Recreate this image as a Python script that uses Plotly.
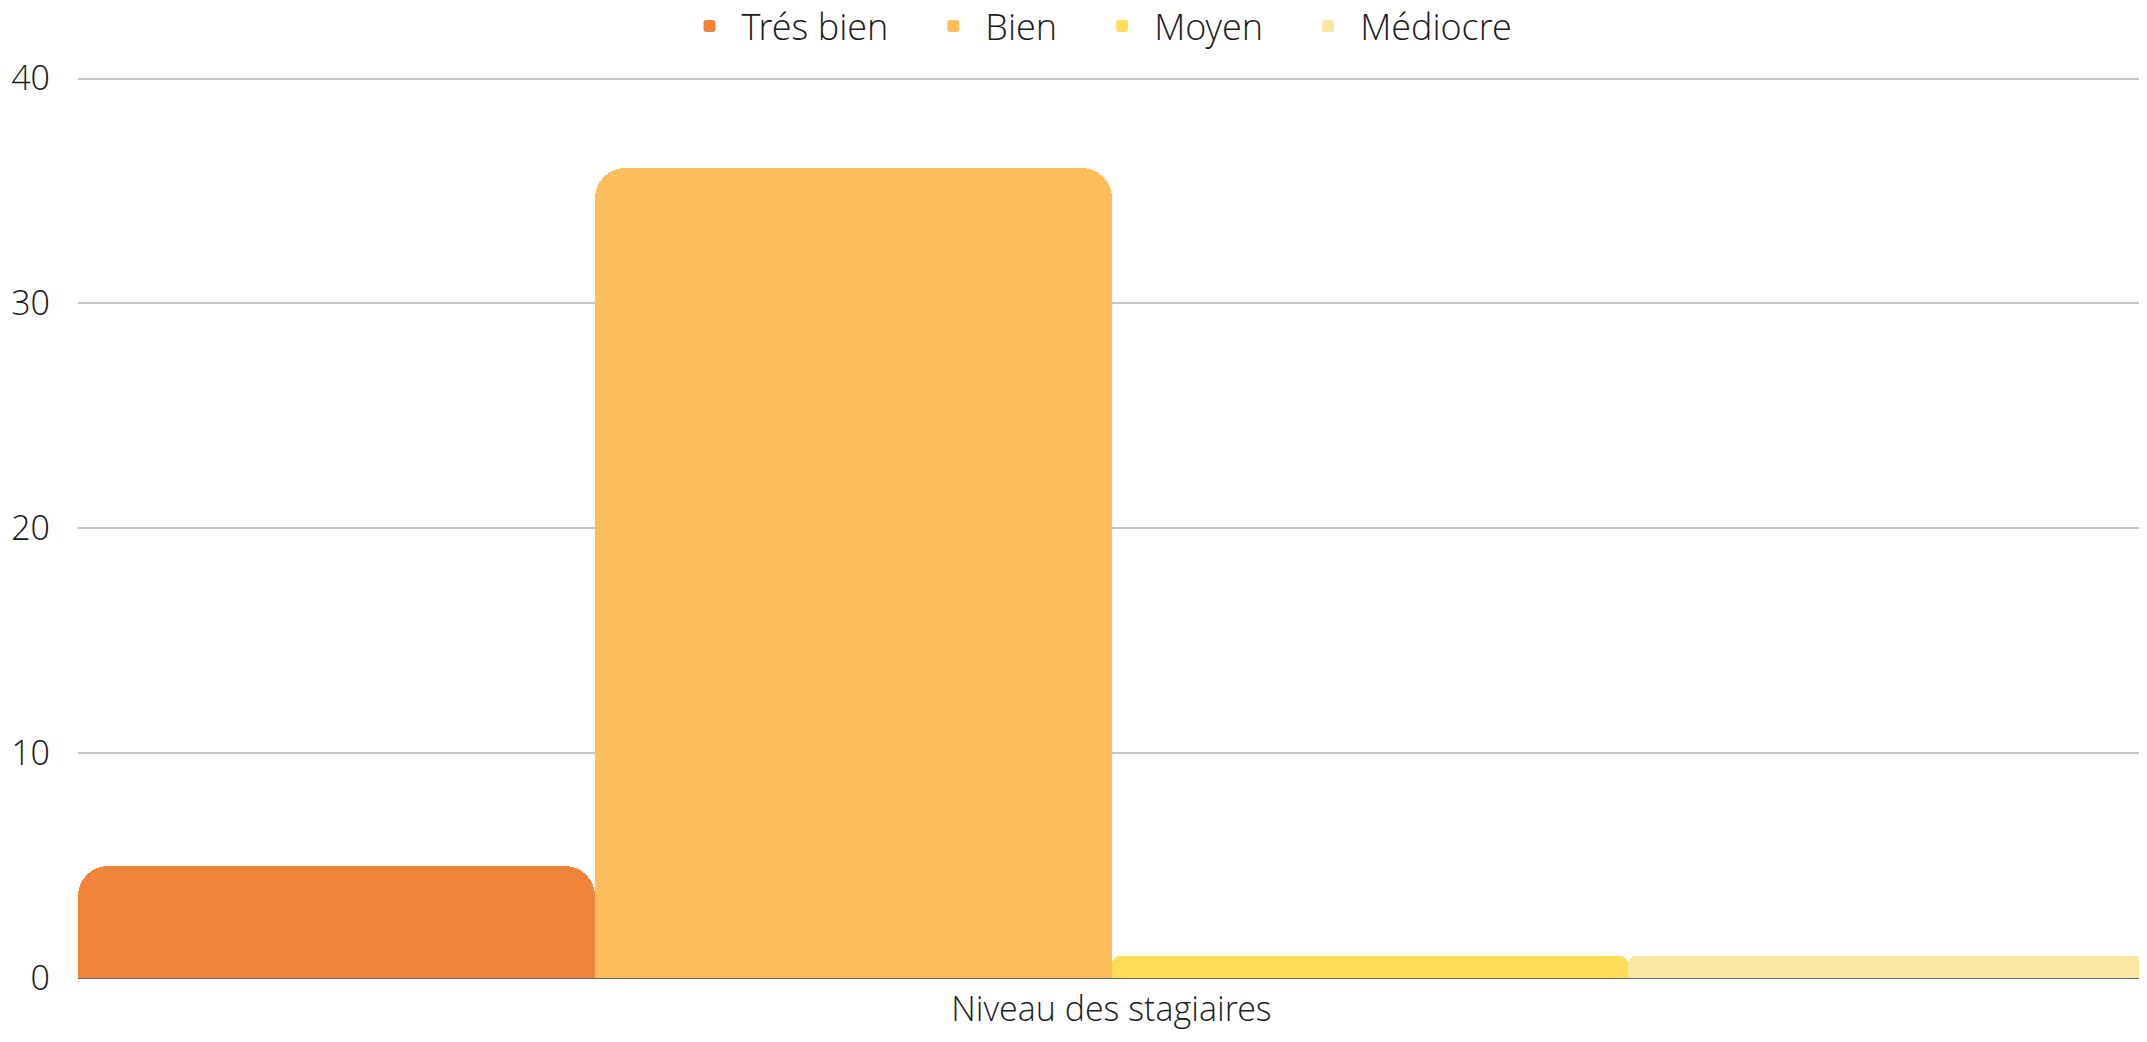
import plotly.graph_objects as go

category = ["Niveau des stagiaires"]
series_names = ["Trés bien", "Bien", "Moyen", "Médiocre"]
series_values = [5, 36, 1, 1]
colors = ["#f1843a", "#fdbd5b", "#ffdd57", "#f9e7a3"]
# the short bars get a tighter corner, like in the source chart
corner_radii = [30, 30, 8, 8]

pad = "\u00a0" * 3
fig = go.Figure()
for name, val, col, rad in zip(series_names, series_values, colors, corner_radii):
    fig.add_trace(go.Bar(x=category, y=[val], name=name + pad,
                         marker=dict(color=col, line=dict(width=0), cornerradius=rad)))

fig.update_layout(
    width=2147, height=1042,
    plot_bgcolor="white", paper_bgcolor="white",
    barmode="group", bargap=0, bargroupgap=0,
    font=dict(family="Open Sans Light, Open Sans", size=34, color="#1a1a1a", weight=300),
    margin=dict(l=70, r=10, t=66, b=72, autoexpand=False),
    legend=dict(orientation="h", x=0.5, xanchor="center", y=1.053, yanchor="middle",
                font=dict(size=36), itemwidth=54, traceorder="normal"),
)
fig.update_yaxes(range=[0, 40.2], tickvals=[0, 10, 20, 30, 40], showgrid=True,
                 gridcolor="#c4c4c4", gridwidth=1.5,
                 zeroline=True, zerolinecolor="#666666", zerolinewidth=2,
                 ticklabelstandoff=27, showline=False)
fig.update_xaxes(showgrid=False, showline=False, ticks="", ticklabelstandoff=8)

fig.write_html("out.html")
